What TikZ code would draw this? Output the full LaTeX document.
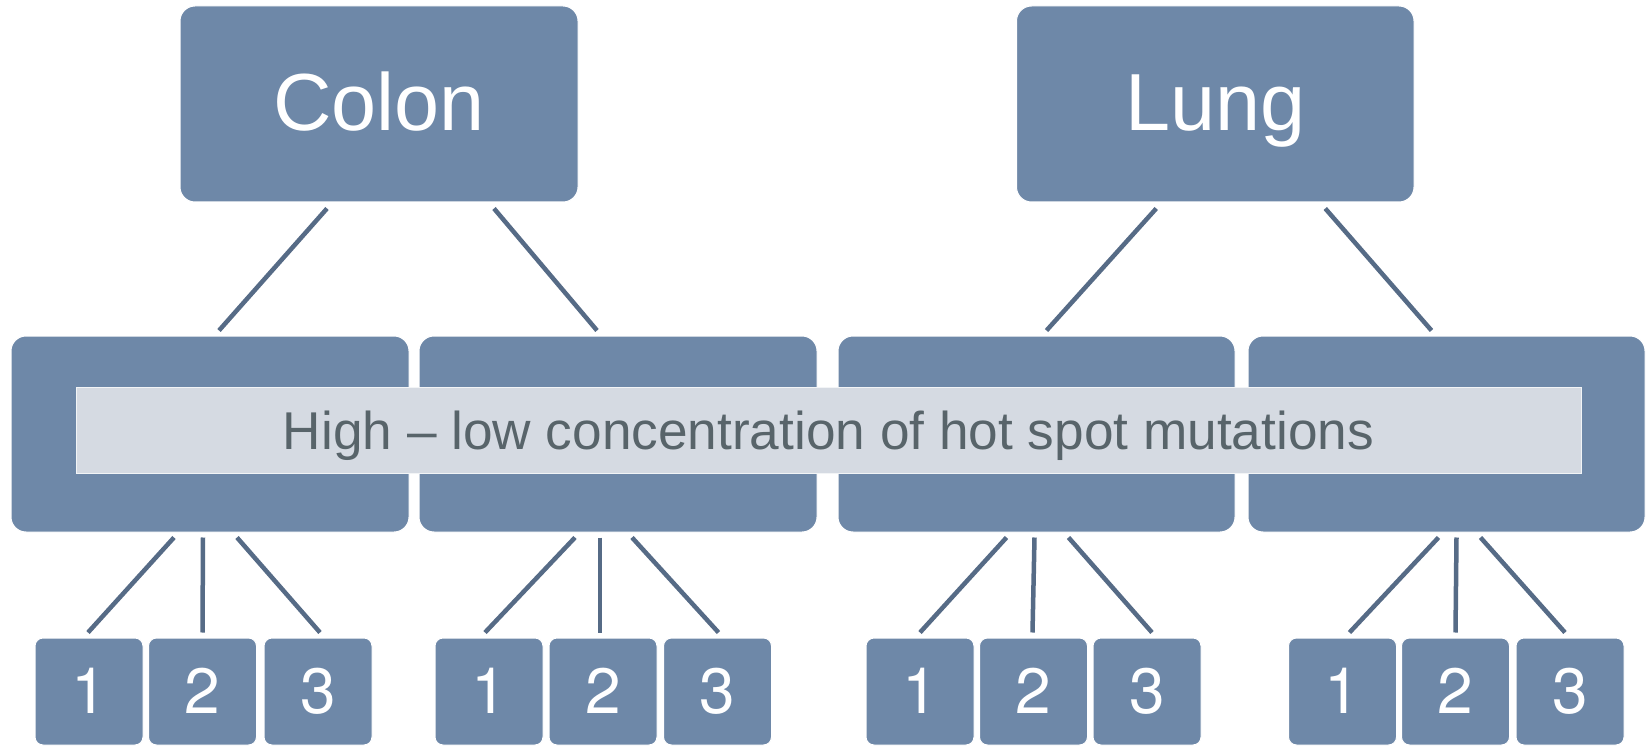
\documentclass[tikz,border=0pt]{standalone}
\usepackage{fontspec}
\setmainfont{Liberation Sans}
\newfontfamily\digitfont{TeX Gyre Heros}
\definecolor{boxblue}{HTML}{6E88A8}
\definecolor{lineblue}{HTML}{566B86}
\definecolor{bandgray}{HTML}{D5DAE2}
\definecolor{bandtext}{HTML}{58646A}
\tikzset{
  topbox/.style={fill=boxblue, draw=white, line width=1pt, rounded corners=15pt,
    inner sep=0pt, minimum width=398pt, minimum height=196pt,
    text height=60pt, text depth=6pt,
    text=white, font=\fontsize{81}{90}\selectfont},
  midbox/.style={fill=boxblue, draw=white, line width=1pt, rounded corners=15pt,
    inner sep=0pt, minimum width=398pt, minimum height=196pt},
  smallbox/.style={fill=boxblue, draw=white, line width=1pt, rounded corners=8pt,
    inner sep=0pt, minimum width=108pt, minimum height=107pt,
    text height=46pt, text depth=3pt,
    text=white, font=\digitfont\fontsize{64}{70}\selectfont},
  bandbox/.style={fill=bandgray, draw=white!70!bandgray, line width=0.8pt,
    inner sep=0pt, minimum width=1505pt, minimum height=86pt,
    text height=38pt, text depth=0pt,
    text=bandtext, font=\fontsize{53.2}{60}\selectfont},
  conn/.style={draw=lineblue, line width=4.5pt}
}
\begin{document}
\begin{tikzpicture}[x=1pt, y=-1pt]
\useasboundingbox[fill=white] (0,0) rectangle (1650,746);
% top boxes
\node[topbox] (colon) at (379,104) {Colon};
\node[topbox, minimum width=397.5pt] (lung) at (1215.25,104) {Lung};
% middle boxes
\node[midbox] (m1) at (210,434) {};
\node[midbox] (m2) at (618,434) {};
\node[midbox, minimum width=397pt] (m3) at (1036.5,434) {};
\node[midbox, minimum width=397pt] (m4) at (1446.5,434) {};
% band
\node[bandbox] (band) at (828.5,430) {High – low concentration of hot spot mutations};
% small boxes
\node[smallbox] (s11) at (89,691.5) {1};
\node[smallbox] (s12) at (202.5,691.5) {2};
\node[smallbox] (s13) at (318,691.5) {3};
\node[smallbox] (s21) at (489,691.5) {1};
\node[smallbox] (s22) at (603,691.5) {2};
\node[smallbox] (s23) at (717.5,691.5) {3};
\node[smallbox] (s31) at (920,691.5) {1};
\node[smallbox] (s32) at (1033.5,691.5) {2};
\node[smallbox] (s33) at (1147,691.5) {3};
\node[smallbox] (s41) at (1342.5,691.5) {1};
\node[smallbox] (s42) at (1455.5,691.5) {2};
\node[smallbox] (s43) at (1570,691.5) {3};
% connectors top -> middle
\draw[conn] ([xshift=-52pt,yshift=-6pt]colon.south) -- ([xshift=9pt,yshift=5pt]m1.north);
\draw[conn] ([xshift=115pt,yshift=-6pt]colon.south) -- ([xshift=-21pt,yshift=5pt]m2.north);
\draw[conn] ([xshift=-59pt,yshift=-6pt]lung.south) -- ([xshift=10pt,yshift=5pt]m3.north);
\draw[conn] ([xshift=110pt,yshift=-6pt]lung.south) -- ([xshift=-15pt,yshift=5pt]m4.north);
% connectors middle -> small
\draw[conn] ([xshift=-36pt,yshift=-5pt]m1.south) -- ([xshift=-1pt,yshift=5pt]s11.north);
\draw[conn] ([xshift=-7pt,yshift=-5pt]m1.south) -- ([xshift=0pt,yshift=5pt]s12.north);
\draw[conn] ([xshift=27pt,yshift=-5pt]m1.south) -- ([xshift=2pt,yshift=5pt]s13.north);
\draw[conn] ([xshift=-43pt,yshift=-5pt]m2.south) -- ([xshift=-4pt,yshift=5pt]s21.north);
\draw[conn] ([xshift=-18pt,yshift=-5pt]m2.south) -- ([xshift=-3pt,yshift=5pt]s22.north);
\draw[conn] ([xshift=14pt,yshift=-5pt]m2.south) -- ([xshift=1pt,yshift=5pt]s23.north);
\draw[conn] ([xshift=-30pt,yshift=-5pt]m3.south) -- ([xshift=0pt,yshift=5pt]s31.north);
\draw[conn] ([xshift=-2pt,yshift=-5pt]m3.south) -- ([xshift=-1pt,yshift=5pt]s32.north);
\draw[conn] ([xshift=32pt,yshift=-5pt]m3.south) -- ([xshift=5pt,yshift=5pt]s33.north);
\draw[conn] ([xshift=-8pt,yshift=-5pt]m4.south) -- ([xshift=7pt,yshift=5pt]s41.north);
\draw[conn] ([xshift=10pt,yshift=-5pt]m4.south) -- ([xshift=0pt,yshift=5pt]s42.north);
\draw[conn] ([xshift=34pt,yshift=-5pt]m4.south) -- ([xshift=-5pt,yshift=5pt]s43.north);
\end{tikzpicture}
\end{document}
